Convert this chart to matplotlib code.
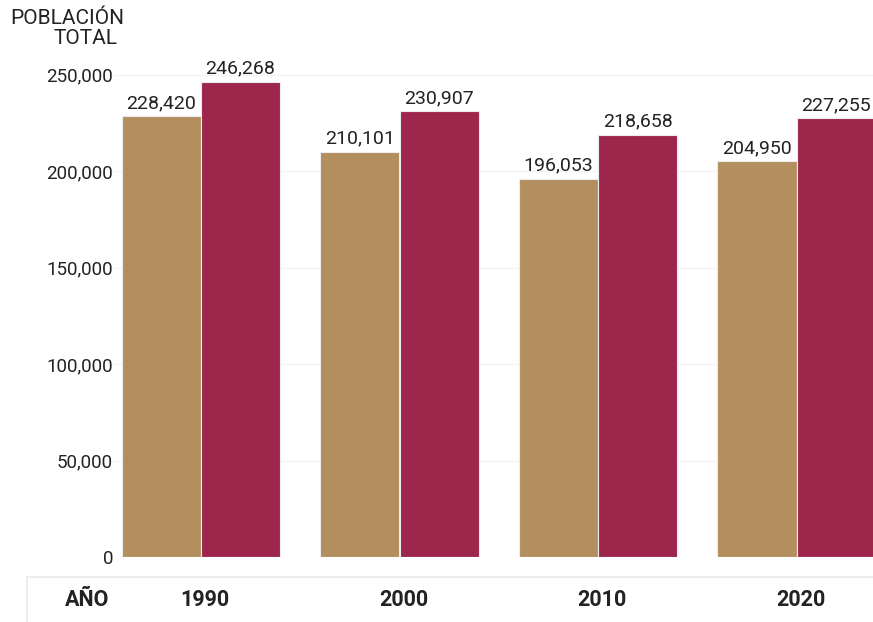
import matplotlib.pyplot as plt
import matplotlib.transforms as mtransforms
import numpy as np

plt.rcParams['font.family'] = ['Roboto', 'DejaVu Sans']

years = ['1990', '2000', '2010', '2020']
serie_a = [228420, 210101, 196053, 204950]
serie_b = [246268, 230907, 218658, 227255]
y_ticks = [0, 50000, 100000, 150000, 200000, 250000]

W, H = 873, 622
fig = plt.figure(figsize=(W / 100, H / 100), dpi=100)

# axes placed in pixel units
left, right, bottom, top = 113, 873, 557, 50
ax = fig.add_axes([left / W, 1 - bottom / H, (right - left) / W, (bottom - top) / H])

x = np.arange(len(years))
bw = 0.398
tan = '#B38F5F'
maroon = '#9D264C'
ax.bar(x - bw / 2, serie_a, bw, color=tan, edgecolor='#ececf0', linewidth=0.8, zorder=2)
ax.bar(x + bw / 2, serie_b, bw, color=maroon, edgecolor='#ececf0', linewidth=0.8, zorder=2)

for xi, v in zip(x - bw / 2, serie_a):
    ax.annotate(f'{v:,}', (xi, v), xytext=(0, 3), textcoords='offset points',
                ha='center', va='bottom', fontsize=14, color='#222222')
for xi, v in zip(x + bw / 2, serie_b):
    ax.annotate(f'{v:,}', (xi, v), xytext=(0, 3), textcoords='offset points',
                ha='center', va='bottom', fontsize=14, color='#222222')

ax.set_xlim(-88 / 198.5, (right - 201) / 198.5)
ax.set_ylim(0, (bottom - top) / 96.5 * 50000)
ax.set_yticks(y_ticks)
ax.set_yticklabels([f'{t:,}' for t in y_ticks], fontsize=13.5, color='#222222')
ax.tick_params(axis='y', length=0, pad=0)
ax.set_xticks([])
ax.grid(axis='y', color='#f4f4f4', linewidth=1, zorder=0)
for s in ax.spines.values():
    s.set_visible(False)

# y-axis title (two lines, second one shifted right as in the source)
fig.text(67 / W, 1 - 18 / H, 'POBLACIÓN', ha='center', va='center',
         fontsize=15, color='#222222')
fig.text(85 / W, 1 - 39 / H, 'TOTAL', ha='center', va='center',
         fontsize=15, color='#222222')

# bottom band with years
fig.add_artist(plt.Line2D([27 / W, 1], [1 - 577 / H] * 2, color='#ededed', linewidth=1.5))
fig.add_artist(plt.Line2D([27 / W] * 2, [1 - 577 / H, 0], color='#ededed', linewidth=1.5))
fig.text(87 / W, 1 - 600 / H, 'AÑO', ha='center', va='center', fontsize=15.5,
         fontweight='bold', color='#222222')
trans = mtransforms.blended_transform_factory(ax.transData, fig.transFigure)
for xi, yr in zip(x, years):
    ax.text(xi + 0.02, 1 - 600 / H, yr, transform=trans, ha='center', va='center',
            fontsize=15.5, fontweight='bold', color='#222222', clip_on=False)

fig.savefig('out.png', dpi=100)
